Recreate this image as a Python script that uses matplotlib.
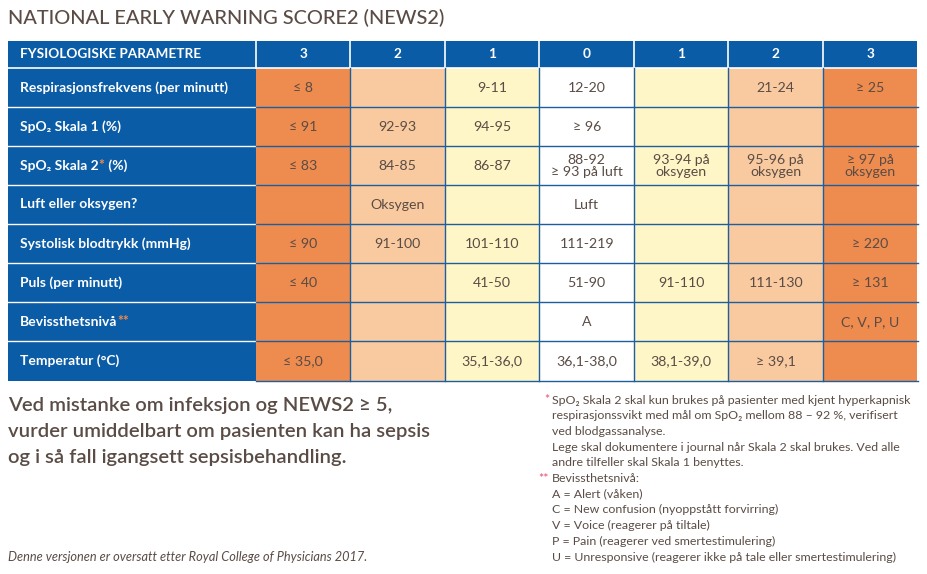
import matplotlib
matplotlib.use('Agg')
import matplotlib.pyplot as plt
from matplotlib.patches import Rectangle

plt.rcParams['font.family'] = ['Lato', 'DejaVu Sans']

title = 'NATIONAL EARLY WARNING SCORE2 (NEWS2)'
header = ['FYSIOLOGISKE PARAMETRE', '3', '2', '1', '0', '1', '2', '3']

# parameter label, marker (coloured asterisks), suffix
labels = ['Respirasjonsfrekvens (per minutt)', 'SpO₂ Skala 1 (%)', 'SpO₂ Skala 2',
          'Luft eller oksygen?', 'Systolisk blodtrykk (mmHg)', 'Puls (per minutt)',
          'Bevissthetsnivå', 'Temperatur (°C)']
label_marks = ['', '', '*', '', '', '', '**', '']
label_suffix = ['', '', ' (%)', '', '', '', '', '']

resp = ['≤ 8', '', '9-11', '12-20', '', '21-24', '≥ 25']
spo2_1 = ['≤ 91', '92-93', '94-95', '≥ 96', '', '', '']
spo2_2 = ['≤ 83', '84-85', '86-87', '88-92\n≥ 93 på luft', '93-94 på\noksygen',
          '95-96 på\noksygen', '≥ 97 på\noksygen']
air = ['', 'Oksygen', '', 'Luft', '', '', '']
bp = ['≤ 90', '91-100', '101-110', '111-219', '', '', '≥ 220']
pulse = ['≤ 40', '', '41-50', '51-90', '91-110', '111-130', '≥ 131']
consc = ['', '', '', 'A', '', '', 'C, V, P, U']
temp = ['≤ 35,0', '', '35,1-36,0', '36,1-38,0', '38,1-39,0', '≥ 39,1', '']
rows = [resp, spo2_1, spo2_2, air, bp, pulse, consc, temp]

scores = [3, 2, 1, 0, 1, 2, 3]
score_colors = {3: '#EE8B4E', 2: '#F9CA9F', 1: '#FFF6C7', 0: '#FFFFFF'}

message = ['Ved mistanke om infeksjon og NEWS2 ≥ 5,',
           'vurder umiddelbart om pasienten kan ha sepsis',
           'og i så fall igangsett sepsisbehandling.']
source = 'Denne versjonen er oversatt etter Royal College of Physicians 2017.'

notes = ['SpO₂ Skala 2 skal kun brukes på pasienter med kjent hyperkapnisk',
         'respirasjonssvikt med mål om SpO₂ mellom 88 – 92 %, verifisert',
         'ved blodgassanalyse.',
         'Lege skal dokumentere i journal når Skala 2 skal brukes. Ved alle',
         'andre tilfeller skal Skala 1 benyttes.',
         'Bevissthetsnivå:',
         'A = Alert (våken)',
         'C = New confusion (nyoppstått forvirring)',
         'V = Voice (reagerer på tiltale)',
         'P = Pain (reagerer ved smertestimulering)',
         'U = Unresponsive (reagerer ikke på tale eller smertestimulering)']
note_marks = ['*', '', '', '', '', '**', '', '', '', '', '']

BLUE = '#0B5CA6'
LINE = '#1D5E9E'
TXT = '#5A4C45'
STAR = '#E2506A'

col_edges = [8, 256, 350.5, 445, 539.5, 634, 728.5, 823, 917.5]
row_edges = [41, 68, 107, 146, 185, 223.5, 263, 302, 341, 381]

fig = plt.figure(figsize=(9.28, 5.74), dpi=100)
ax = fig.add_axes([0, 0, 1, 1])
ax.set_xlim(0, 928)
ax.set_ylim(574, 0)
ax.axis('off')

ax.text(8, 18, title, fontsize=14.4, color=TXT, va='center', ha='left', fontweight='medium')

# header row
ax.add_patch(Rectangle((col_edges[0], row_edges[0]), col_edges[-1] - col_edges[0],
                       row_edges[1] - row_edges[0], color=BLUE, lw=0))
ymid = (row_edges[0] + row_edges[1]) / 2
ax.text(20, ymid, header[0], color='white', fontsize=9.8, fontweight='bold', va='center')
for j, h in enumerate(header[1:]):
    xc = (col_edges[j + 1] + col_edges[j + 2]) / 2
    ax.text(xc, ymid, h, color='white', fontsize=9.8, fontweight='bold', va='center', ha='center')

# label column
ax.add_patch(Rectangle((col_edges[0], row_edges[1]), col_edges[1] - col_edges[0],
                       row_edges[-1] - row_edges[1], color=BLUE, lw=0))

# body cells
for i, row in enumerate(rows):
    y0, y1 = row_edges[i + 1], row_edges[i + 2]
    for j, val in enumerate(row):
        x0, x1 = col_edges[j + 1], col_edges[j + 2]
        ax.add_patch(Rectangle((x0, y0), x1 - x0, y1 - y0,
                               color=score_colors[scores[j]], lw=0))
        if val:
            ax.text((x0 + x1) / 2, (y0 + y1) / 2 + 0.5, val, ha='center', va='center',
                    fontsize=10.2, color=TXT, linespacing=0.9)
    t = ax.text(20, (y0 + y1) / 2, labels[i], color='white', fontsize=10,
                fontweight='bold', va='center')
    if label_marks[i]:
        m = ax.annotate(label_marks[i], xy=(1, 0), xycoords=t, va='bottom',
                        color='#F08A4B', fontsize=10, fontweight='bold')
        if label_suffix[i]:
            ax.annotate(label_suffix[i], xy=(1, 0), xycoords=m, va='bottom',
                        color='white', fontsize=10, fontweight='bold')

# grid lines
for y in row_edges[2:-1]:
    ax.plot([col_edges[0], col_edges[1]], [y, y], color='white', lw=1)
    ax.plot([col_edges[1], col_edges[-1] + 1], [y, y], color=LINE, lw=1)
ax.plot([col_edges[1], col_edges[-1] + 1], [row_edges[-1], row_edges[-1]], color=LINE, lw=1)
ax.plot([col_edges[0], col_edges[-1]], [row_edges[1], row_edges[1]], color='white', lw=1.2)
for x in col_edges[1:-1]:
    ax.plot([x, x], [row_edges[0], row_edges[1]], color='white', lw=1.2)
    if x != col_edges[1]:
        ax.plot([x, x], [row_edges[1], row_edges[-1]], color=LINE, lw=1)

# message text
for k, line in enumerate(message):
    ax.text(8, 405 + k * 26.5, line, fontsize=14.6, color=TXT, fontweight='semibold',
            va='center', ha='left')
ax.text(8, 557, source, fontsize=9.2, color=TXT, style='italic', va='center')

# footnotes
for k, line in enumerate(notes):
    y = 400 + k * 15.7
    ax.text(552, y, line, fontsize=8.95, color=TXT, va='center', ha='left')
    if note_marks[k]:
        ax.text(549, y, note_marks[k], fontsize=8.95, color=STAR, va='center', ha='right')

fig.savefig('out.png', dpi=100)
